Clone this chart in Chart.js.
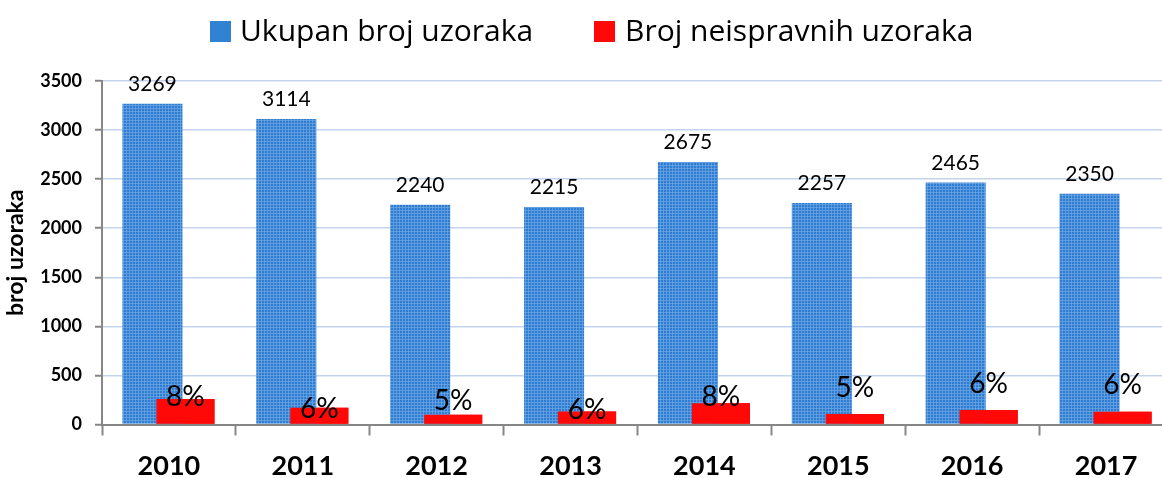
<!DOCTYPE html>
<html>
<head>
<meta charset="utf-8">
<script src="https://cdn.jsdelivr.net/npm/chart.js@4.4.1/dist/chart.umd.min.js"></script>
<style>
  html, body { margin: 0; padding: 0; overflow: hidden; background: #fff; width: 1162px; height: 478px; }
  #wrap { position: relative; width: 1162px; height: 478px; overflow: hidden; }
  canvas { position: absolute; left: 0; top: 0; }
  .sw { position: absolute; width: 21px; height: 21px; top: 21px; }
  .lt { position: absolute; top: 15px; font-family: 'Open Sans', sans-serif; font-size: 30px; line-height: 30px; color: #000; white-space: nowrap; }
</style>
</head>
<body>
<div id="wrap">
  <canvas id="c" width="1180" height="478"></canvas>
  <div class="sw" id="sw0" style="left:210px;"></div>
  <div class="lt" id="lt0" style="left:240px;"></div>
  <div class="sw" id="sw1" style="left:594px;"></div>
  <div class="lt" id="lt1" style="left:625px;"></div>
</div>
<script>
// ---- data ----
const categories = ['2010', '2011', '2012', '2013', '2014', '2015', '2016', '2017'];
const seriesNames = ['Ukupan broj uzoraka', 'Broj neispravnih uzoraka'];
const totalSamples = [3269, 3114, 2240, 2215, 2675, 2257, 2465, 2350];
const defectiveSamples = [260, 170, 100, 132, 216, 108, 148, 130];
const defectiveShare = ['8%', '6%', '5%', '6%', '8%', '5%', '6%', '6%'];
const yAxisTitle = 'broj uzoraka';
const yMax = 3500;
const yStep = 500;

// ---- styling (not data) ----
const pctLabelShift = [-3, 0, -15, -3, -7, -27, -27, -28]; // label centre vs bar top, px
const BLUE = '#3282d3';
const RED = '#fe0808';
const AXIS = '#868686';

function bluePattern() {
  const p = document.createElement('canvas');
  p.width = 3; p.height = 3;
  const g = p.getContext('2d');
  g.fillStyle = '#2f7dd0';
  g.fillRect(0, 0, 3, 3);
  g.fillStyle = 'rgba(110,165,230,0.75)';
  g.fillRect(0, 0, 3, 1);
  g.fillRect(0, 0, 1, 3);
  return g.createPattern(p, 'repeat');
}

document.getElementById('sw0').style.background = BLUE;
document.getElementById('sw1').style.background = RED;
document.getElementById('lt0').textContent = seriesNames[0];
document.getElementById('lt1').textContent = seriesNames[1];

// Draw the red series on top of the overlapping blue bars, then the labels.
const labelPlugin = {
  id: 'valueLabels',
  afterDatasetsDraw(chart) {
    const ctx = chart.ctx;
    chart.getDatasetMeta(1).controller.draw();
    ctx.save();
    ctx.fillStyle = '#000';
    ctx.textAlign = 'center';
    ctx.textBaseline = 'alphabetic';
    const m0 = chart.getDatasetMeta(0);
    ctx.font = '21px Lato';
    m0.data.forEach((bar, i) => {
      ctx.fillText(String(totalSamples[i]), bar.x, bar.y - 13);
    });
    const m1 = chart.getDatasetMeta(1);
    ctx.font = '28px Lato';
    m1.data.forEach((bar, i) => {
      ctx.fillText(defectiveShare[i], bar.x, bar.y + pctLabelShift[i] + 0.36 * 28);
    });
    ctx.restore();
  }
};

const ctx = document.getElementById('c').getContext('2d');
new Chart(ctx, {
  type: 'bar',
  data: {
    labels: categories,
    datasets: [
      {
        label: seriesNames[0],
        data: totalSamples,
        backgroundColor: bluePattern(),
        borderWidth: 0,
        categoryPercentage: 0.493,
        barPercentage: 1.82
      },
      {
        label: seriesNames[1],
        data: defectiveSamples,
        backgroundColor: RED,
        borderWidth: 0,
        categoryPercentage: 0.493,
        barPercentage: 1.76
      }
    ]
  },
  options: {
    responsive: false,
    animation: false,
    devicePixelRatio: 1,
    layout: { padding: { top: 81, right: 7, bottom: 0, left: 0 } },
    plugins: {
      legend: { display: false },
      tooltip: { enabled: false }
    },
    scales: {
      x: {
        offset: true,
        grid: {
          display: true,
          offset: true,
          drawOnChartArea: false,
          drawTicks: true,
          tickLength: 11,
          tickColor: AXIS,
          tickWidth: 2
        },
        border: { display: true, color: AXIS, width: 2 },
        ticks: {
          color: '#000',
          font: { family: 'Lato', size: 27, weight: 'bold' },
          padding: 15,
          maxRotation: 0
        },
        afterFit(scale) { scale.height = 53.5; }
      },
      y: {
        min: 0,
        max: yMax,
        ticks: {
          stepSize: yStep,
          color: '#000',
          font: { family: 'Lato', size: 18, weight: 'bold' },
          padding: 13,
          callback: (v) => String(v)
        },
        grid: {
          color: (c) => (c.tick && c.tick.value === 0 ? 'rgba(0,0,0,0)' : '#c4d4ee'),
          lineWidth: 1.5,
          drawTicks: true,
          tickLength: 7,
          tickColor: AXIS,
          tickWidth: 2
        },
        border: { display: true, color: AXIS, width: 2 },
        title: {
          display: true,
          text: yAxisTitle,
          color: '#000',
          font: { family: 'Lato', size: 23, weight: 'bold' },
          padding: { top: 2, bottom: 0 }
        },
        afterFit(scale) { scale.width = 102; }
      }
    }
  },
  plugins: [labelPlugin]
});
</script>
</body>
</html>
